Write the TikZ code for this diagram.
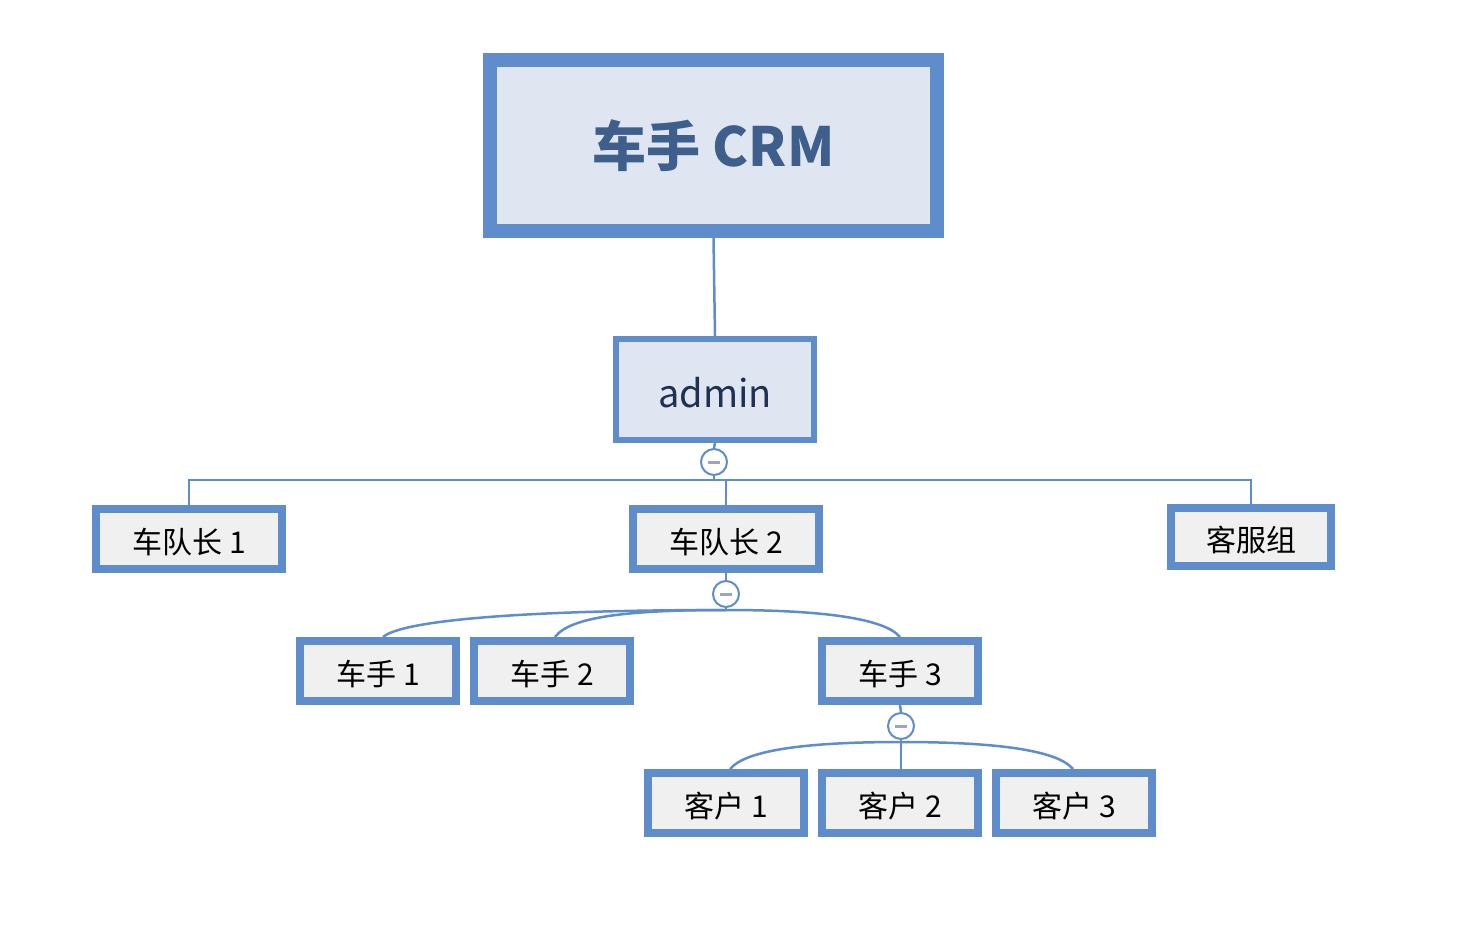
\documentclass[tikz,border=0pt]{standalone}
\usepackage{fontspec}
\setmainfont{Noto Sans CJK SC}
\definecolor{edgeblue}{HTML}{5F8DCB}
\definecolor{titlefill}{HTML}{DFE6F1}
\definecolor{titletext}{HTML}{3E5F8B}
\definecolor{admintext}{HTML}{1F3152}
\definecolor{boxfill}{HTML}{F0F0F0}
\definecolor{dashcol}{HTML}{9AA2CF}
\tikzset{
  titlebox/.style={draw=edgeblue, line width=14pt, fill=titlefill, minimum width=447pt, minimum height=171pt, inner sep=0pt,
    font=\fontsize{54pt}{60pt}\selectfont\bfseries, text=titletext},
  adminbox/.style={draw=edgeblue, line width=6pt, fill=titlefill, minimum width=198pt, minimum height=101pt, inner sep=0pt,
    font=\fontsize{38pt}{44pt}\selectfont, text=admintext, text height=35pt, text depth=0pt},
  leafbox/.style={draw=edgeblue, line width=8pt, fill=boxfill, minimum width=156pt, minimum height=60pt, inner sep=0pt,
    font=\fontsize{30pt}{36pt}\selectfont, text=black, text height=30pt, text depth=1pt},
  wideleaf/.style={leafbox, minimum width=186pt},
  toggle/.style={circle, draw=edgeblue, line width=2pt, fill=white, minimum size=26pt, inner sep=0pt,
    path picture={\draw[dashcol, line width=3pt] ([xshift=-6pt]path picture bounding box.center) -- ([xshift=6pt]path picture bounding box.center);}},
  link/.style={draw=edgeblue, line width=2.5pt}
}
\begin{document}
\begin{tikzpicture}[x=1pt,y=-1pt]
\useasboundingbox (0,0) rectangle (1474,946);
% nodes
\node[titlebox] (title) at (713.5,145.5) {车手 CRM};
\node[adminbox] (admin) at (715,389.5) {admin};
\node[toggle] (t1) at (714,462) {};
\node[wideleaf] (lead1) at (189,539) {车队长 1};
\node[wideleaf] (lead2) at (726,539) {车队长 2};
\node[leafbox, minimum width=160pt, minimum height=58pt] (grp) at (1251,537) {客服组};
\node[toggle] (t2) at (726,594) {};
\node[leafbox] (d1) at (378,671) {车手 1};
\node[leafbox] (d2) at (552,671) {车手 2};
\node[leafbox] (d3) at (900,671) {车手 3};
\node[toggle] (t3) at (901,726) {};
\node[leafbox] (k1) at (726,803) {客户 1};
\node[leafbox] (k2) at (900,803) {客户 2};
\node[leafbox] (k3) at (1074,803) {客户 3};
\coordinate (hub1) at (714,480);
\coordinate (hub2) at (726,610);
\coordinate (hub3) at (901,742);
% connectors
\draw[link] (title.south) -- (admin.north);
\draw[link] (admin.south) -- (t1.north);
\draw[link] (t1.south) -- (hub1);
\draw[link] (lead1.north) |- (hub1) -| (grp.north);
\draw[link] (lead2.north) -- (lead2.north |- hub1);
\draw[link] (lead2.south) -- (t2.north);
\draw[link] (t2.south) -- (hub2);
\draw[link] ([xshift=5pt]d1.north) .. controls +(20,-17) and +(-200,0) .. (hub2);
\draw[link] ([xshift=3pt]d2.north) .. controls +(15,-20) and +(-100,0) .. (hub2);
\draw[link] (d3.north) .. controls +(-15,-18) and +(100,0) .. (hub2);
\draw[link] (d3.south) -- (t3.north);
\draw[link] (t3.south) -- (hub3);
\draw[link] ([xshift=4pt]k1.north) .. controls +(15,-18) and +(-100,0) .. (hub3);
\draw[link] ([xshift=1pt]k2.north) -- (hub3);
\draw[link] ([xshift=-1pt]k3.north) .. controls +(-15,-18) and +(100,0) .. (hub3);
\end{tikzpicture}
\end{document}
